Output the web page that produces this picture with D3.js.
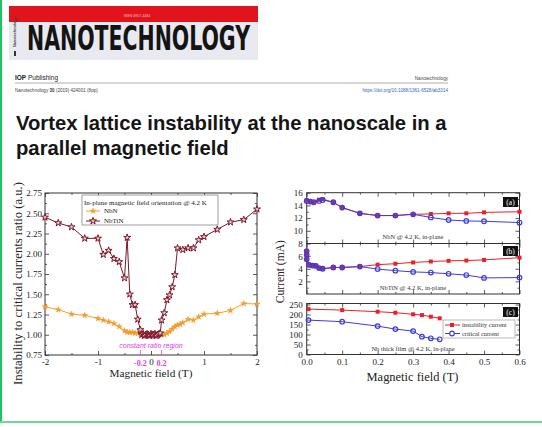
<!DOCTYPE html>
<html><head><meta charset="utf-8">
<script src="https://cdn.jsdelivr.net/npm/d3@7"></script>
<style>html,body{margin:0;padding:0;background:#fff;} svg{display:block}</style>
</head><body>
<svg id="page" width="542" height="427"></svg>
<script>
// ---------- Ratio of instability to critical current vs in-plane field ----------
const fieldNbN  = [-2, -1.75, -1.5, -1.25, -1, -0.9, -0.8, -0.7, -0.6, -0.5, -0.45, -0.4, -0.35, -0.3, -0.25, -0.2, -0.15, -0.1, -0.05, 0, 0.05, 0.1, 0.15, 0.2, 0.25, 0.3, 0.35, 0.4, 0.45, 0.5, 0.55, 0.6, 0.7, 0.8, 0.9, 1, 1.25, 1.5, 1.75, 2];
const ratioNbN  = [1.345, 1.31, 1.255, 1.24, 1.20, 1.18, 1.16, 1.14, 1.10, 1.05, 1.03, 1.03, 1.03, 1.02, 1.02, 1.01, 1.00, 0.99, 0.99, 0.99, 0.99, 0.99, 1.00, 1.00, 1.00, 1.02, 1.04, 1.07, 1.10, 1.12, 1.13, 1.15, 1.19, 1.18, 1.22, 1.255, 1.265, 1.30, 1.385, 1.38];
const fieldNbTiN = [-2, -1.75, -1.5, -1.25, -1, -0.9, -0.8, -0.7, -0.6, -0.5, -0.45, -0.4, -0.35, -0.3, -0.25, -0.2, -0.175, -0.15, -0.125, -0.1, -0.075, -0.05, -0.025, 0, 0.025, 0.05, 0.075, 0.1, 0.125, 0.15, 0.175, 0.2, 0.25, 0.3, 0.35, 0.4, 0.45, 0.5, 0.6, 0.7, 0.8, 0.9, 1, 1.25, 1.5, 1.75, 2];
const ratioNbTiN = [2.45, 2.38, 2.33, 2.19, 2.19, 1.99, 2.04, 1.94, 1.90, 1.70, 2.20, 1.50, 1.37, 1.37, 1.19, 1.06, 1.00, 1.01, 0.99, 1.00, 1.01, 1.00, 0.99, 1.01, 1.00, 1.00, 1.01, 0.99, 1.00, 1.01, 1.02, 1.18, 1.27, 1.43, 1.49, 1.59, 1.74, 2.07, 2.05, 2.07, 2.07, 2.17, 2.21, 2.30, 2.39, 2.42, 2.55];
const ratioXTicks = [-2, -1, 0, 1, 2];
const ratioXMinor = [-1.5, -0.5, 0.5, 1.5];
const ratioYTicks = [0.75, 1, 1.25, 1.5, 1.75, 2, 2.25, 2.5, 2.75];
const ratioYMinor = [0.875, 1.125, 1.375, 1.625, 1.875, 2.125, 2.375, 2.625];
const constantRegion = [-0.2, 0.2];

// ---------- Currents vs field, three samples ----------
const fieldA = [0, 0.01, 0.02, 0.035, 0.045, 0.075, 0.1, 0.15, 0.2, 0.25, 0.3, 0.35, 0.4, 0.45, 0.5, 0.6];
const instA  = [14.8, 14.6, 14.5, 14.9, 15.0, 14.5, 13.65, 12.75, 12.4, 12.4, 12.6, 12.65, 12.75, 12.75, 12.9, 13.0];
const critA  = [14.7, 14.6, 14.5, 14.7, 14.85, 14.5, 13.65, 12.75, 12.4, 12.4, 12.6, 12.1, 11.7, 11.55, 11.5, 11.3];
const fieldB = [0, 0, 0, 0.007, 0.017, 0.026, 0.035, 0.045, 0.075, 0.1, 0.15, 0.2, 0.25, 0.3, 0.35, 0.4, 0.45, 0.5, 0.6];
const instB  = [6.8, 6.2, 5.5, 4.6, 4.5, 4.45, 4.1, 4.0, 4.2, 4.2, 4.35, 4.65, 4.8, 5.0, 5.15, 5.25, 5.3, 5.4, 5.75];
const critB  = [6.8, 6.2, 5.5, 4.6, 4.5, 4.45, 4.1, 4.0, 4.2, 4.2, 4.35, 3.95, 3.7, 3.5, 3.4, 3.2, 3.0, 2.55, 2.6];
const fieldC = [0.005, 0.1, 0.2, 0.25, 0.3, 0.325, 0.35, 0.375];
const instC  = [227, 222, 214, 209, 201, 197, 189, 181];
const critC  = [172, 164, 142, 127, 117, 89, 81, 76];
const currXTicks = [0, 0.1, 0.2, 0.3, 0.4, 0.5, 0.6];
const currXMinor = [0.05, 0.15, 0.25, 0.35, 0.45, 0.55];
const aYTicks = [8, 10, 12, 14, 16], aYMinor = [9, 11, 13, 15];
const bYTicks = [2, 4, 6], bYMinor = [1, 3, 5, 7];
const cYTicks = [0, 50, 100, 150, 200, 250], cYMinor = [25, 75, 125, 175, 225];
const panelNames = ["(a)", "(b)", "(c)"];
const panelNotes = ["NbN @ 4.2 K, in-plane", "NbTiN @ 4.2 K, in-plane", "Nb thick film @ 4.2 K, in-plane"];
const seriesNames = ["instability current", "critical current"];
const ratioNames = ["NbN", "NbTiN"];

const SERIF = "'Liberation Serif','DejaVu Serif',serif";
const SANS = "'Liberation Sans',Arial,sans-serif";
const svg = d3.select("#page");
svg.append("rect").attr("width", 542).attr("height", 427).attr("fill", "#fff");

function fit(t, w) {
  const cur = t.node().getComputedTextLength();
  t.attr("font-size", parseFloat(t.attr("font-size")) * w / cur);
  return t;
}

// ---------- page header ----------
svg.append("rect").attr("x", 9).attr("y", 6).attr("width", 249).attr("height", 16).attr("fill", "#e1131c");
svg.append("rect").attr("x", 9).attr("y", 22).attr("width", 249).attr("height", 38).attr("fill", "#e9e9f0");
svg.append("text").attr("x", 137).attr("y", 17).attr("text-anchor", "middle").attr("font-family", SANS)
  .attr("font-size", 3.6).attr("fill", "#f6c9c9").text("ISSN 0957-4484");
svg.append("text").attr("x", 27).attr("y", 50).attr("font-family", "'Liberation Sans Narrow','DejaVu Sans Condensed',sans-serif")
  .attr("font-weight", "bold").attr("font-size", 34).attr("fill", "#141414")
  .attr("textLength", 223).attr("lengthAdjust", "spacingAndGlyphs").text("NANOTECHNOLOGY");
svg.append("text").attr("transform", "translate(16,47) rotate(-90)").attr("font-family", SANS)
  .attr("font-size", 3.8).attr("font-weight", "bold").attr("fill", "#444").text("Nanotechnology");
svg.append("rect").attr("x", 14).attr("y", 51).attr("width", 2).attr("height", 5).attr("fill", "#333");

const hdr = svg.append("g").attr("font-family", SANS);
const iop = hdr.append("text").attr("x", 15).attr("y", 80).attr("font-size", 6.5).attr("fill", "#222");
iop.append("tspan").attr("font-weight", "bold").text("IOP");
iop.append("tspan").text(" Publishing");
hdr.append("text").attr("x", 448).attr("y", 80).attr("text-anchor", "end").attr("font-size", 4.6).attr("fill", "#444").text("Nanotechnology");
hdr.append("line").attr("x1", 15).attr("x2", 448).attr("y1", 83).attr("y2", 83).attr("stroke", "#9a9a9a").attr("stroke-width", 0.8);
const cite = hdr.append("text").attr("x", 15).attr("y", 92).attr("font-size", 4.6).attr("fill", "#444");
cite.append("tspan").text("Nanotechnology ");
cite.append("tspan").attr("font-weight", "bold").text("30");
cite.append("tspan").text(" (2019) 424001 (8pp)");
hdr.append("text").attr("x", 448).attr("y", 92).attr("text-anchor", "end").attr("font-size", 4.6).attr("fill", "#3a63c8")
  .text("https://doi.org/10.1088/1361-6528/ab3314");

const pageTitle = ["Vortex lattice instability at the nanoscale in a", "parallel magnetic field"];
const t1 = svg.append("text").attr("x", 16).attr("y", 130).attr("font-family", SANS).attr("font-weight", "bold")
  .attr("font-size", 20).attr("fill", "#151515").text(pageTitle[0]);
fit(t1, 431);
svg.append("text").attr("x", 16).attr("y", 155).attr("font-family", SANS).attr("font-weight", "bold")
  .attr("font-size", t1.attr("font-size")).attr("fill", "#151515").text(pageTitle[1]);

// ---------- shared axis helper: inward ticks on all four sides ----------
function framed(g, x, y, o) {
  const [yb, yt] = y.range(), [xl, xr] = x.range();
  const style = sel => {
    sel.select(".domain").remove();
    sel.selectAll("line").attr("stroke", "#333").attr("stroke-width", 0.8);
    sel.selectAll("text").attr("font-family", SERIF).attr("font-size", 9).attr("fill", "#222");
  };
  const add = (axisFn, vals, size, fmt, tr, pad) => g.append("g").attr("transform", tr)
    .call(axisFn.tickValues(vals).tickSize(size).tickSizeOuter(0).tickPadding(pad || 3).tickFormat(fmt || (() => ""))).call(style);
  add(d3.axisBottom(x), o.xt, -4, o.xfmt, `translate(0,${yb})`, o.xpad);
  add(d3.axisBottom(x), o.xm, -2, null, `translate(0,${yb})`);
  add(d3.axisTop(x), o.xt, -4, null, `translate(0,${yt})`);
  add(d3.axisTop(x), o.xm, -2, null, `translate(0,${yt})`);
  add(d3.axisLeft(y), o.yt, -4, o.yfmt, `translate(${xl},0)`, o.ypad);
  add(d3.axisLeft(y), o.ym, -2, null, `translate(${xl},0)`);
  add(d3.axisRight(y), o.yt, -4, null, `translate(${xr},0)`);
  add(d3.axisRight(y), o.ym, -2, null, `translate(${xr},0)`);
  g.append("rect").attr("x", xl).attr("y", yt).attr("width", xr - xl).attr("height", yb - yt)
    .attr("fill", "none").attr("stroke", "#333").attr("stroke-width", 1);
}

// ---------- left chart: ratio ----------
const xL = d3.scaleLinear().domain([-2, 2]).range([45, 257]);
const yL = d3.scaleLinear().domain([0.75, 2.75]).range([355, 193]);
const gl = svg.append("g");
framed(gl, xL, yL, { xt: ratioXTicks, xm: ratioXMinor, yt: ratioYTicks, ym: ratioYMinor,
  xfmt: d => String(d), yfmt: d3.format(".2f"), xpad: 4, ypad: 3 });

const MAG = "#e03ce0";
gl.selectAll(".reg-label").data(constantRegion).join("text").attr("class", "reg-label")
  .attr("x", d => xL(d)).attr("y", 366).attr("text-anchor", "middle").attr("font-family", SERIF)
  .attr("font-weight", "bold").attr("font-size", 8).attr("fill", MAG).text(d => String(d));
gl.selectAll(".reg-tick").data(constantRegion).join("line").attr("class", "reg-tick")
  .attr("x1", d => xL(d)).attr("x2", d => xL(d)).attr("y1", 350).attr("y2", 355).attr("stroke", MAG).attr("stroke-width", 0.8);
gl.append("line").attr("x1", xL(-0.17)).attr("x2", xL(0.17)).attr("y1", 338).attr("y2", 338)
  .attr("stroke", "#f28cf2").attr("stroke-width", 1.6);
gl.append("text").attr("x", xL(0)).attr("y", 347.5).attr("text-anchor", "middle").attr("font-family", SANS)
  .attr("font-style", "italic").attr("font-size", 7).attr("fill", MAG).text("constant ratio region");

const lineL = d3.line().x(d => xL(d[0])).y(d => yL(d[1]));
const nbn = d3.zip(fieldNbN, ratioNbN), nbtin = d3.zip(fieldNbTiN, ratioNbTiN);
const ORANGE = "#f4a030", DRED = "#7d1626";
const starS = d3.symbol().type(d3.symbolStar).size(11);
const starL = d3.symbol().type(d3.symbolStar).size(15);
gl.append("path").datum(nbn).attr("d", lineL).attr("fill", "none").attr("stroke", ORANGE).attr("stroke-width", 1);
gl.selectAll(".nbn").data(nbn).join("path").attr("class", "nbn").attr("d", starS)
  .attr("transform", d => `translate(${xL(d[0])},${yL(d[1])})`).attr("fill", ORANGE).attr("stroke", "#e8901c").attr("stroke-width", 0.4);
gl.append("path").datum(nbtin).attr("d", lineL).attr("fill", "none").attr("stroke", DRED).attr("stroke-width", 1);
gl.selectAll(".nbtin").data(nbtin).join("path").attr("class", "nbtin").attr("d", starL)
  .attr("transform", d => `translate(${xL(d[0])},${yL(d[1])})`).attr("fill", "#e9cfcf").attr("stroke", DRED).attr("stroke-width", 1);

// legend
const lg = gl.append("g");
lg.append("rect").attr("x", 82).attr("y", 195).attr("width", 136).attr("height", 30).attr("fill", "#fff").attr("stroke", "#888").attr("stroke-width", 0.8);
lg.append("text").attr("x", 84).attr("y", 205).attr("font-family", SERIF).attr("font-size", 7).attr("fill", "#222")
  .text("In-plane magnetic field orientation @ 4.2 K");
[[ORANGE, starS, ORANGE], [DRED, starL, "#e9cfcf"]].forEach((c, i) => {
  const yy = 211 + i * 10;
  lg.append("line").attr("x1", 86).attr("x2", 100).attr("y1", yy).attr("y2", yy).attr("stroke", c[0]).attr("stroke-width", 1);
  lg.append("path").attr("d", c[1]).attr("transform", `translate(93,${yy})`).attr("fill", c[2]).attr("stroke", c[0]).attr("stroke-width", i ? 1 : 0.4);
  lg.append("text").attr("x", 104).attr("y", yy + 2.3).attr("font-family", SERIF).attr("font-size", 7).attr("fill", "#222").text(ratioNames[i]);
});

const yTitleL = gl.append("text").attr("transform", "translate(21.5,283.5) rotate(-90)").attr("text-anchor", "middle")
  .attr("font-family", SERIF).attr("font-size", 11).attr("fill", "#222").text("Instability to critical currents ratio (a.u.)");
fit(yTitleL, 203);
const xTitleL = gl.append("text").attr("x", 151).attr("y", 377).attr("text-anchor", "middle")
  .attr("font-family", SERIF).attr("font-size", 11).attr("fill", "#222").text("Magnetic field (T)");
fit(xTitleL, 83);

// ---------- right chart: currents ----------
const xR = d3.scaleLinear().domain([0, 0.6]).range([306.7, 519.5]);
const RED = "#e8202a", BLUE = "#3c3cdc";
const panels = [
  { y: d3.scaleLinear().domain([8, 16]).range([243.5, 192.7]), yt: aYTicks, ym: aYMinor, f: fieldA, inst: instA, crit: critA, boxY: 197, noteY: 239 },
  { y: d3.scaleLinear().domain([0, 8]).range([294, 243.5]), yt: bYTicks, ym: bYMinor, f: fieldB, inst: instB, crit: critB, boxY: 246, noteY: 289.5 },
  { y: d3.scaleLinear().domain([0, 255]).range([354.5, 303.5]), yt: cYTicks, ym: cYMinor, f: fieldC, inst: instC, crit: critC, boxY: 307, noteY: 350.5 }
];
const sq = d3.symbol().type(d3.symbolSquare).size(16);
panels.forEach((p, i) => {
  const g = svg.append("g");
  framed(g, xR, p.y, { xt: currXTicks, xm: currXMinor, yt: p.yt, ym: p.ym,
    xfmt: i === 2 ? d3.format(".1f") : null, yfmt: d => String(d), xpad: 4, ypad: 4 });
  const ln = d3.line().x(d => xR(d[0])).y(d => p.y(d[1]));
  const inst = d3.zip(p.f, p.inst), crit = d3.zip(p.f, p.crit);
  g.append("path").datum(inst).attr("d", ln).attr("fill", "none").attr("stroke", RED).attr("stroke-width", 1);
  g.selectAll(".inst").data(inst).join("path").attr("class", "inst").attr("d", sq)
    .attr("transform", d => `translate(${xR(d[0])},${p.y(d[1])})`).attr("fill", RED);
  g.append("path").datum(crit).attr("d", ln).attr("fill", "none").attr("stroke", BLUE).attr("stroke-width", 1);
  g.selectAll(".crit").data(crit).join("circle").attr("class", "crit").attr("cx", d => xR(d[0])).attr("cy", d => p.y(d[1]))
    .attr("r", 2.3).attr("fill", "none").attr("stroke", BLUE).attr("stroke-width", 1.2);
  g.append("rect").attr("x", 503).attr("y", p.boxY).attr("width", 15).attr("height", 10).attr("fill", "#111");
  g.append("text").attr("x", 510.5).attr("y", p.boxY + 7.5).attr("text-anchor", "middle").attr("font-family", SERIF)
    .attr("font-size", 7.5).attr("fill", "#fff").text(panelNames[i]);
  g.append("text").attr("x", 413).attr("y", p.noteY).attr("text-anchor", "middle").attr("font-family", SERIF)
    .attr("font-size", 6.5).attr("fill", "#333").text(panelNotes[i]);
});

// legend in panel (c)
const lr = svg.append("g");
lr.append("rect").attr("x", 443).attr("y", 320).attr("width", 72).attr("height", 18).attr("fill", "#fff").attr("stroke", "#aaa").attr("stroke-width", 0.8);
[0, 1].forEach(i => {
  const yy = 325 + i * 8.5, c = i ? BLUE : RED;
  lr.append("line").attr("x1", 445).attr("x2", 460).attr("y1", yy).attr("y2", yy).attr("stroke", c).attr("stroke-width", 1);
  if (i) lr.append("circle").attr("cx", 452).attr("cy", yy).attr("r", 2.3).attr("fill", "#fff").attr("stroke", c).attr("stroke-width", 1.2);
  else lr.append("path").attr("d", sq).attr("transform", `translate(452,${yy})`).attr("fill", c);
  lr.append("text").attr("x", 462).attr("y", yy + 2).attr("font-family", SERIF).attr("font-size", 6.3).attr("fill", "#333").text(seriesNames[i]);
});

const yTitleR = svg.append("text").attr("transform", "translate(284,271.7) rotate(-90)").attr("text-anchor", "middle")
  .attr("font-family", SERIF).attr("font-size", 12).attr("fill", "#222").text("Current (mA)");
fit(yTitleR, 63);
const xTitleR = svg.append("text").attr("x", 412.5).attr("y", 380.5).attr("text-anchor", "middle")
  .attr("font-family", SERIF).attr("font-size", 12).attr("fill", "#222").text("Magnetic field (T)");
fit(xTitleR, 92);

// page border accents
svg.append("rect").attr("x", 0).attr("y", 0).attr("width", 2).attr("height", 423).attr("fill", "#1fc462");
svg.append("rect").attr("x", 0).attr("y", 421).attr("width", 542).attr("height", 2).attr("fill", "#6cd89d");
</script></body></html>
